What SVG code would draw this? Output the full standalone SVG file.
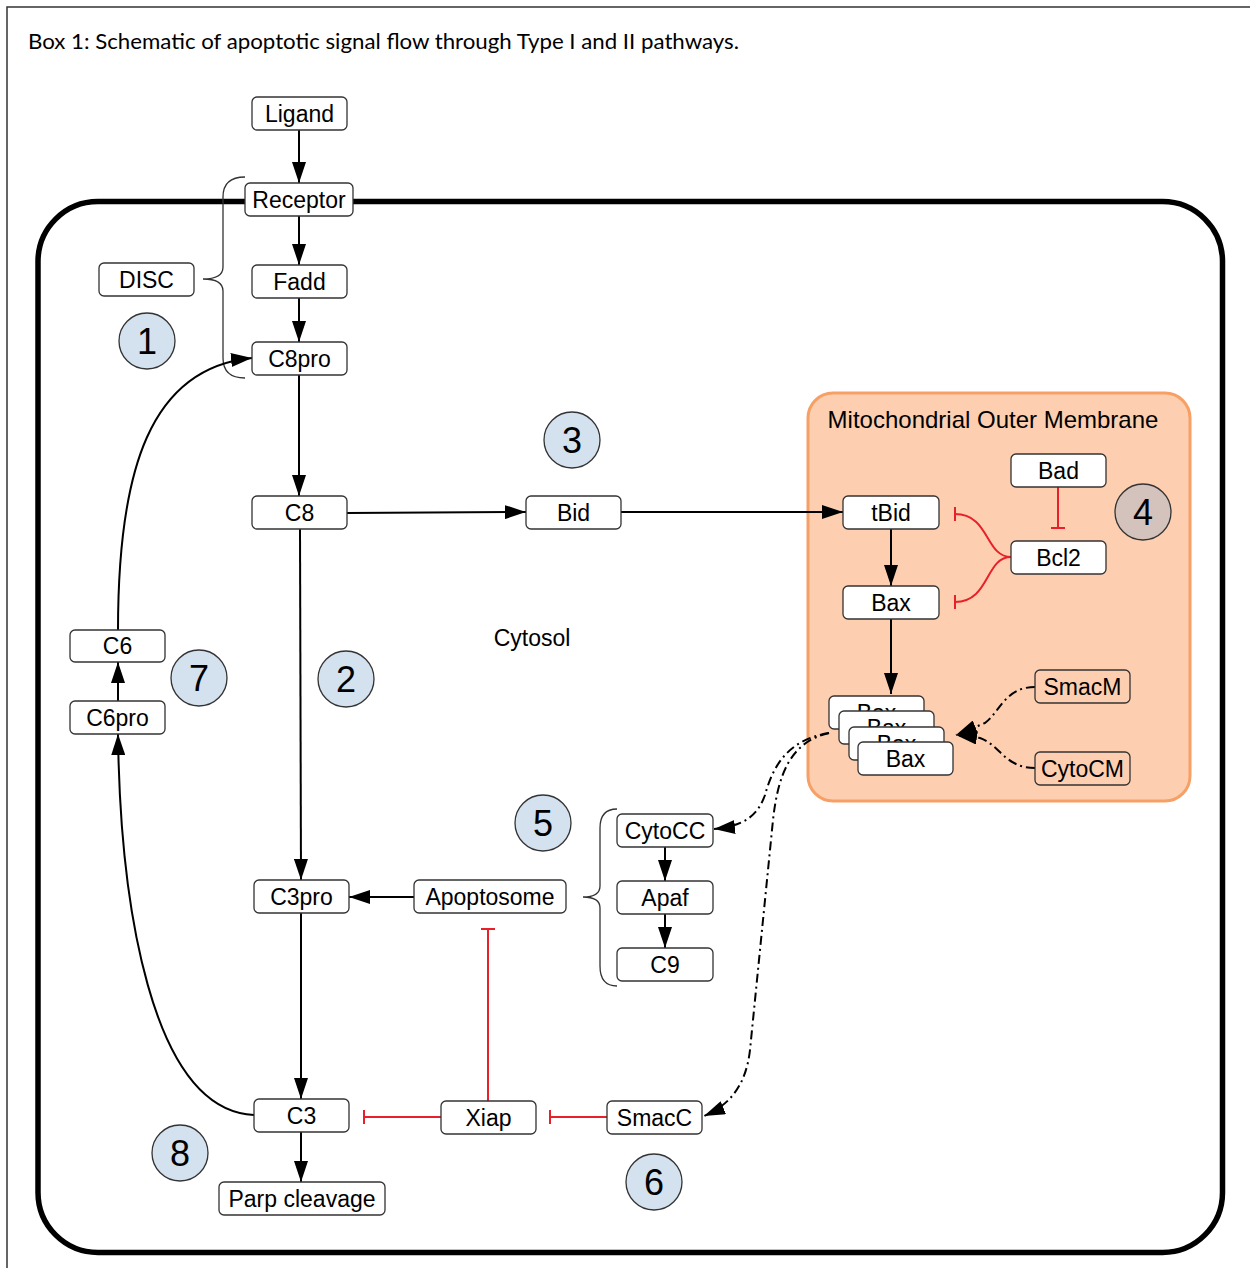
<svg xmlns="http://www.w3.org/2000/svg" width="1250" height="1268" viewBox="0 0 1250 1268">
<style>
.node rect{fill:#fff;stroke:#333;stroke-width:1.3}
.node text,.lbl{font-family:"Liberation Sans",Arial,sans-serif;font-size:23px;fill:#000;text-anchor:middle}
.num circle{fill:#d4e1ee;stroke:#333;stroke-width:1.3}
.num text{font-family:"Liberation Sans",Arial,sans-serif;font-size:36px;fill:#000;text-anchor:middle}
.edge{fill:none;stroke:#000;stroke-width:2}
.dd{fill:none;stroke:#000;stroke-width:2;stroke-dasharray:9 4 2 4}
.inh{fill:none;stroke:#e8202a;stroke-width:2}
.brace{fill:none;stroke:#333;stroke-width:1.3}
</style>
<defs>
<marker id="arr" markerUnits="userSpaceOnUse" viewBox="0 0 21 14" markerWidth="21" markerHeight="14" refX="21" refY="7" orient="auto"><path d="M0,0 L21,7 L0,14 z" fill="#000"/></marker>
<marker id="tee" markerUnits="userSpaceOnUse" viewBox="-2 -8 4 16" markerWidth="4" markerHeight="16" refX="0" refY="0" orient="auto"><path d="M0,-7 V7" stroke="#e8202a" stroke-width="2"/></marker>
</defs>
<rect x="0" y="0" width="1250" height="1268" fill="#fff"/>
<rect x="7" y="7" width="1260" height="1280" fill="none" stroke="#333" stroke-width="1.5"/>
<text x="28" y="49" font-family="Lato,'Open Sans','Liberation Sans',sans-serif" font-size="21" textLength="711" lengthAdjust="spacingAndGlyphs">Box 1: Schematic of apoptotic signal flow through Type I and II pathways.</text>
<g id="cell"><rect x="38" y="201.5" width="1184.5" height="1051" rx="60" fill="none" stroke="#000" stroke-width="5.5"/></g>
<g id="mito"><rect x="808" y="393" width="382" height="408" rx="25" fill="#fdcfb0" stroke="#f7a066" stroke-width="3"/><text class="lbl" x="993" y="428" style="font-size:24px">Mitochondrial Outer Membrane</text></g>
<text id="cytosol" class="lbl" x="532" y="646">Cytosol</text>
<g id="braces">
<path class="brace" d="M245,177 Q223,177 223,197 L223,267 Q223,279 203,279 Q223,279 223,291 L223,358 Q223,378 245,378"/>
<path class="brace" d="M617,809 Q600,809 600,828 L600,886 Q600,897 583,897 Q600,897 600,908 L600,966 Q600,986 617,986"/>
</g>
<g id="connectors">
<path class="edge" marker-end="url(#arr)" d="M299,130 V183"/>
<path class="edge" marker-end="url(#arr)" d="M299,216 V265"/>
<path class="edge" marker-end="url(#arr)" d="M299,298 V342"/>
<path class="edge" marker-end="url(#arr)" d="M299,375 V496"/>
<path class="edge" marker-end="url(#arr)" d="M347,513 L526,512"/>
<path class="edge" marker-end="url(#arr)" d="M621,512 L843,512"/>
<path class="edge" marker-end="url(#arr)" d="M891,529 V586"/>
<path class="edge" marker-end="url(#arr)" d="M891,619 V694"/>
<path class="edge" marker-end="url(#arr)" d="M300,529 L301,880"/>
<path class="edge" marker-end="url(#arr)" d="M414,897 H349"/>
<path class="edge" marker-end="url(#arr)" d="M301,913 V1099"/>
<path class="edge" marker-end="url(#arr)" d="M301,1132 V1182"/>
<path class="edge" marker-end="url(#arr)" d="M665,847 V881"/>
<path class="edge" marker-end="url(#arr)" d="M665,914 V948"/>
<path class="edge" marker-end="url(#arr)" d="M254,1115 C150,1110 120,900 118,734"/>
<path class="edge" marker-end="url(#arr)" d="M118,701 V662"/>
<path class="edge" marker-end="url(#arr)" d="M118,630 C118,470 150,368 252,358"/>
<path class="inh" marker-end="url(#tee)" d="M1058,487 V528"/>
<path class="inh" marker-end="url(#tee)" d="M1011,557 C985,557 990,514 955,514"/>
<path class="inh" marker-end="url(#tee)" d="M1011,557 C985,557 990,602 955,602"/>
<path class="inh" marker-end="url(#tee)" d="M441,1117 H364"/>
<path class="inh" marker-end="url(#tee)" d="M607,1117 H550"/>
<path class="inh" marker-end="url(#tee)" d="M488,1101 V929"/>
<path class="dd" marker-end="url(#arr)" d="M1035,687 C1005,687 1000,712 985,723 L956,735"/>
<path class="dd" marker-end="url(#arr)" d="M1035,768 C1005,768 1000,745 980,738 L956,735"/>
<path class="dd" marker-end="url(#arr)" d="M829,733 C785,740 772,770 765,795 C758,815 745,826 714,829"/>
<path class="dd" marker-end="url(#arr)" d="M829,733 C790,742 778,775 773,820 L750,1050 C746,1085 730,1105 704,1116"/>
</g>
<g id="n-ligand" class="node"><rect x="252" y="97" width="95" height="33" rx="5"/><text x="299.5" y="121.5">Ligand</text></g>
<g id="n-receptor" class="node"><rect x="245" y="183" width="108" height="33" rx="5"/><text x="299" y="207.5">Receptor</text></g>
<g id="n-fadd" class="node"><rect x="252" y="265" width="95" height="33" rx="5"/><text x="299.5" y="289.5">Fadd</text></g>
<g id="n-c8pro" class="node"><rect x="252" y="342" width="95" height="33" rx="5"/><text x="299.5" y="366.5">C8pro</text></g>
<g id="n-disc" class="node"><rect x="99" y="263" width="95" height="33" rx="5"/><text x="146.5" y="287.5">DISC</text></g>
<g id="n-c8" class="node"><rect x="252" y="496" width="95" height="33" rx="5"/><text x="299.5" y="520.5">C8</text></g>
<g id="n-bid" class="node"><rect x="526" y="496" width="95" height="33" rx="5"/><text x="573.5" y="520.5">Bid</text></g>
<g id="n-tbid" class="node"><rect x="843" y="496" width="96" height="33" rx="5"/><text x="891" y="520.5">tBid</text></g>
<g id="n-bax" class="node"><rect x="843" y="586" width="96" height="33" rx="5"/><text x="891" y="610.5">Bax</text></g>
<g id="n-bad" class="node"><rect x="1011" y="454" width="95" height="33" rx="5"/><text x="1058.5" y="478.5">Bad</text></g>
<g id="n-bcl2" class="node"><rect x="1011" y="541" width="95" height="33" rx="5"/><text x="1058.5" y="565.5">Bcl2</text></g>
<g id="n-baxstack" class="node">
<rect x="829" y="696" width="95" height="33" rx="5"/><text x="876.5" y="720.5">Bax</text>
<rect x="839" y="711" width="95" height="33" rx="5"/><text x="886.5" y="735.5">Bax</text>
<rect x="849" y="727" width="95" height="33" rx="5"/><text x="896.5" y="751.5">Bax</text>
<rect x="858" y="742" width="95" height="33" rx="5"/><text x="905.5" y="766.5">Bax</text>
</g>
<g id="n-smacm" class="node"><rect x="1035" y="670" width="95" height="33" rx="5" style="fill:#fdcfb0"/><text x="1082.5" y="694.5">SmacM</text></g>
<g id="n-cytocm" class="node"><rect x="1035" y="752" width="95" height="33" rx="5" style="fill:#fdcfb0"/><text x="1082.5" y="776.5">CytoCM</text></g>
<g id="n-cytocc" class="node"><rect x="617" y="814" width="96" height="33" rx="5"/><text x="665" y="838.5">CytoCC</text></g>
<g id="n-apaf" class="node"><rect x="617" y="881" width="96" height="33" rx="5"/><text x="665" y="905.5">Apaf</text></g>
<g id="n-c9" class="node"><rect x="617" y="948" width="96" height="33" rx="5"/><text x="665" y="972.5">C9</text></g>
<g id="n-apoptosome" class="node"><rect x="414" y="880" width="152" height="33" rx="5"/><text x="490" y="904.5">Apoptosome</text></g>
<g id="n-c3pro" class="node"><rect x="254" y="880" width="95" height="33" rx="5"/><text x="301.5" y="904.5">C3pro</text></g>
<g id="n-c3" class="node"><rect x="254" y="1099" width="95" height="33" rx="5"/><text x="301.5" y="1123.5">C3</text></g>
<g id="n-parp" class="node"><rect x="219" y="1182" width="166" height="33" rx="5"/><text x="302" y="1206.5">Parp cleavage</text></g>
<g id="n-xiap" class="node"><rect x="441" y="1101" width="95" height="33" rx="5"/><text x="488.5" y="1125.5">Xiap</text></g>
<g id="n-smacc" class="node"><rect x="607" y="1101" width="95" height="33" rx="5"/><text x="654.5" y="1125.5">SmacC</text></g>
<g id="n-c6" class="node"><rect x="70" y="630" width="95" height="32" rx="5"/><text x="117.5" y="654">C6</text></g>
<g id="n-c6pro" class="node"><rect x="70" y="701" width="95" height="33" rx="5"/><text x="117.5" y="725.5">C6pro</text></g>
<g id="num1" class="num"><circle cx="147" cy="341" r="28"/><text x="147" y="354">1</text></g>
<g id="num2" class="num"><circle cx="346" cy="679" r="28"/><text x="346" y="692">2</text></g>
<g id="num3" class="num"><circle cx="572" cy="440" r="28"/><text x="572" y="453">3</text></g>
<g id="num4" class="num"><circle cx="1143" cy="512" r="28" style="fill:#d4c2bc"/><text x="1143" y="525">4</text></g>
<g id="num5" class="num"><circle cx="543" cy="823" r="28"/><text x="543" y="836">5</text></g>
<g id="num6" class="num"><circle cx="654" cy="1182" r="28"/><text x="654" y="1195">6</text></g>
<g id="num7" class="num"><circle cx="199" cy="678" r="28"/><text x="199" y="691">7</text></g>
<g id="num8" class="num"><circle cx="180" cy="1153" r="28"/><text x="180" y="1166">8</text></g>
</svg>
